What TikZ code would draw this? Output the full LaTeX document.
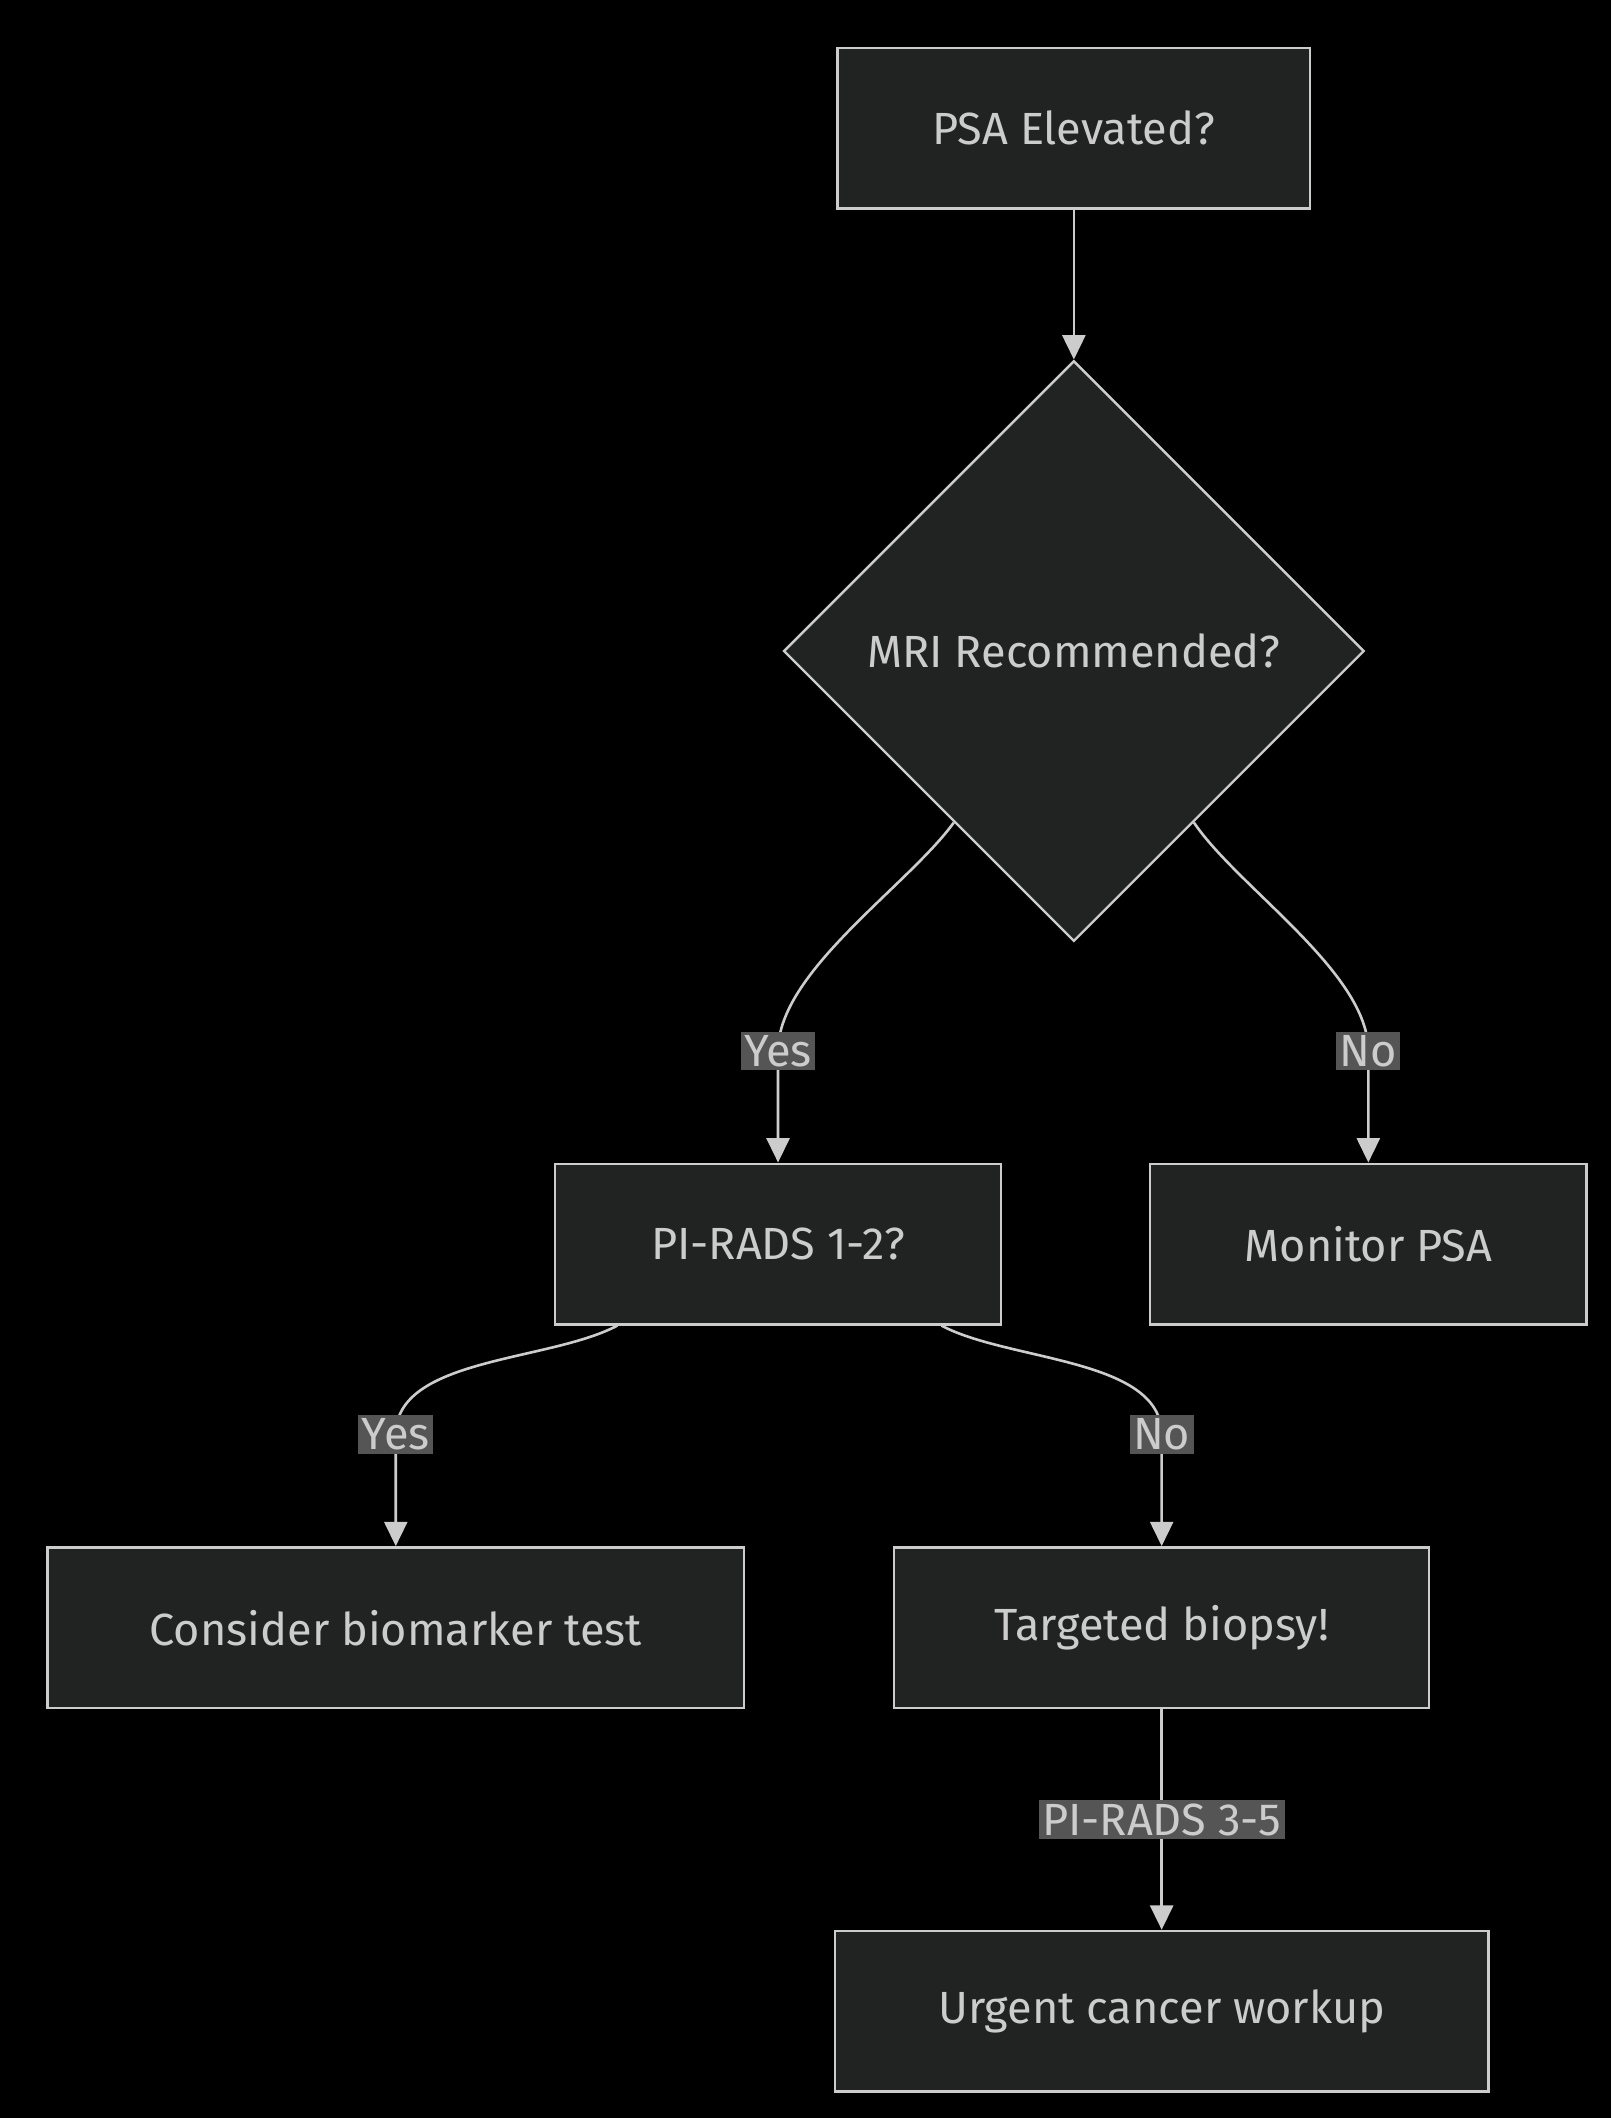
\documentclass[tikz,border=0pt]{standalone}
\usepackage{fontspec}
\setmainfont{Fira Sans}
\usetikzlibrary{shapes.geometric}
\usetikzlibrary{calc}
\usetikzlibrary{arrows.meta}
\definecolor{bgc}{RGB}{0,0,0}
\definecolor{boxfill}{RGB}{33,35,34}
\definecolor{linec}{RGB}{204,204,204}
\definecolor{lblfill}{RGB}{85,85,85}
\begin{document}
\begin{tikzpicture}[x=0.02cm, y=-0.02cm]
        % ================= 样式 =================
        \tikzset{
            % 方框
            box/.style={draw=linec, line width=1pt, fill=boxfill, text=linec, minimum width=#1, minimum height=2.38cm, font=\fontsize{19}{22}\selectfont},
            box/.default=7cm,
            % 菱形
            decide/.style={diamond, draw=linec, line width=1pt, fill=boxfill, text=linec, minimum width=8.6cm, minimum height=8.6cm, inner sep=0pt, font=\fontsize{19}{22}\selectfont},
            % 边标签
            lbl/.style={fill=lblfill, text=linec, inner sep=1.5pt, font=\fontsize{19}{22}\selectfont},
            % 连线
            edge/.style={line width=1.1pt, linec},
            arr/.style={edge, -{Triangle[length=0.36cm, width=0.34cm]}}
        }
        \fill[bgc] (0,0) rectangle (1193,1568);
        \useasboundingbox (0,0) rectangle (1193,1568);

        % ================= 节点 =================
        \node[box] (psa) at (795,95) {PSA Elevated?};
        \node[decide] (mri) at (795,482) {MRI Recommended?};
        \node[box=6.6cm] (p12) at (576,921) {PI-RADS 1-2?};
        \node[box=6.46cm] (mon) at (1013,921) {Monitor PSA};
        \node[box=10.32cm] (bio) at (293,1205) {Consider biomarker test};
        \node[box=7.92cm] (bx) at (860,1205) {Targeted biopsy!};
        \node[box=9.68cm] (urg) at (860,1489) {Urgent cancer workup};

        % 标签位置
        \coordinate (ly1) at (576,778);
        \coordinate (ln1) at (1013,778);
        \coordinate (ly2) at (293,1062);
        \coordinate (ln2) at (860,1062);
        \coordinate (lp) at (860,1347);

        % ================= 连线 =================
        \draw[arr] (psa) -- (mri.north);
        \draw[arr] (mri.235) to[out=-126, in=90, looseness=0.7] (ly1) to[out=-90, in=90] (p12.north);
        \draw[arr] (mri.305) to[out=-56, in=90, looseness=0.7] (ln1) to[out=-90, in=90] (mon.north);
        \draw[arr] ($(p12.south)+(-119,0)$) to[out=-152, in=90, looseness=0.8] (ly2) to[out=-90, in=90] (bio.north);
        \draw[arr] ($(p12.south)+(121,0)$) to[out=-28, in=90, looseness=0.8] (ln2) to[out=-90, in=90] (bx.north);
        \draw[arr] (bx) -- (urg);

        % ================= 标签 =================
        \node[lbl] at (ly1) {Yes};
        \node[lbl] at (ln1) {No};
        \node[lbl] at (ly2) {Yes};
        \node[lbl] at (ln2) {No};
        \node[lbl] at (lp) {PI-RADS 3-5};
\end{tikzpicture}
\end{document}
